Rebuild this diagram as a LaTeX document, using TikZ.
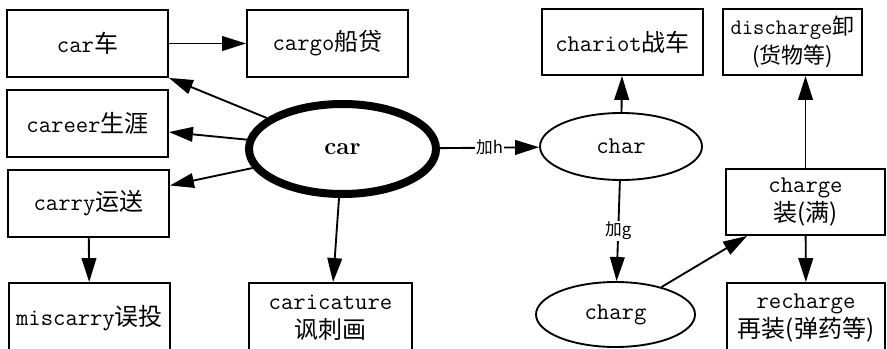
\documentclass[tikz,border=0pt]{standalone}
\usepackage{fontspec}
\newfontfamily\cjk{Noto Sans CJK SC}
\usepackage{tikz}
\usetikzlibrary{shapes, shapes.geometric, arrows.meta, calc}
\tikzstyle{boite} = [
    rectangle,
    minimum width = 120.75pt,
    minimum height = 50.25pt,
    inner sep = 0pt,
    align = center,
    text centered,
    draw = black,
    line width = 1.4pt,
    font = \ttfamily\fontsize{18}{22}\selectfont,
]
\tikzstyle{bulle} = [
    ellipse,
    inner sep = 0pt,
    draw = black,
    line width = 1.4pt,
    font = \ttfamily\fontsize{18}{22}\selectfont,
]
\tikzstyle{fleche} = [->, line width = 1.4pt]
\tikzstyle{etiquette} = [fill = white, inner sep = 1pt, font = \cjk\fontsize{12.5}{14}\selectfont]

\begin{document}
\begin{tikzpicture} [x = 0.75pt, y = -0.75pt, >={Triangle[length = 18pt, width = 11pt]}]
    \useasboundingbox (0, 0) rectangle (887, 349);
    \clip (0, 0) rectangle (887, 349);

    % racine
    \node (CarRoot) [bulle, line width = 6pt, minimum width = 140.25pt, minimum height = 67.5pt, font = \rmfamily\bfseries\fontsize{18}{22}\selectfont] at (342.5, 149) {car};

    % branche gauche
    \node (CarBox) [boite] at (87.5, 43.5) {car{\cjk 车}};
    \node (Cargo) [boite] at (327.5, 43.5) {cargo{\cjk 船贷}};
    \node (Career) [boite] at (87.5, 123.5) {career{\cjk 生涯}};
    \node (Carry) [boite] at (88.5, 203.5) {carry{\cjk 运送}};
    \node (Miscarry) [boite, minimum height = 52.5pt] at (89.5, 318) {miscarry{\cjk 误投}};
    \node (Caricature) [boite, minimum width = 122.25pt, minimum height = 52.5pt] at (330.5, 318) {caricature\\{\cjk 讽刺画}};

    % branche droite
    \node (Char) [bulle, minimum width = 121.5pt, minimum height = 50.25pt] at (621, 146.5) {char};
    \node (Charg) [bulle, minimum width = 119.25pt, minimum height = 48.75pt] at (615.5, 314.5) {charg};
    \node (Chariot) [boite, minimum height = 49.5pt] at (622.5, 42) {chariot{\cjk 战车}};
    \node (Discharge) [boite, minimum width = 104.25pt, minimum height = 49.5pt, font = \ttfamily\fontsize{16.5}{22}\selectfont] at (792.5, 42) {discharge{\cjk 卸}\\{\cjk (货物等)}};
    \node (Charge) [boite, minimum width = 119.25pt, minimum height = 49.5pt] at (805.5, 202) {charge\\{\cjk 装(满)}};
    \node (Recharge) [boite, minimum width = 118.5pt, minimum height = 52.5pt] at (806, 318) {recharge\\{\cjk 再装(弹药等)}};

    \draw[fleche] (CarBox) -- (Cargo);
    \draw[fleche] (CarRoot) -- (CarBox.south east);
    \draw[fleche] (CarRoot) -- ([yshift = -6.4pt]Career.east);
    \draw[fleche] (CarRoot) -- ([yshift = 13.5pt]Carry.east);
    \draw[fleche] (Carry) -- (Miscarry);
    \draw[fleche] (CarRoot) -- (Caricature);

    \draw[fleche] (CarRoot) -- node[etiquette] {加h} (Char);
    \draw[fleche] (Char) -- (Chariot);
    \draw[fleche] (Char) -- node[etiquette] {加g} (Charg);
    \draw[fleche] (Charg) -- ([xshift = 16.5pt]Charge.south west);
    \draw[fleche] (Charge.north) -- (Charge.north |- Discharge.south);
    \draw[fleche] (Charge) -- (Recharge);
\end{tikzpicture}
\end{document}
